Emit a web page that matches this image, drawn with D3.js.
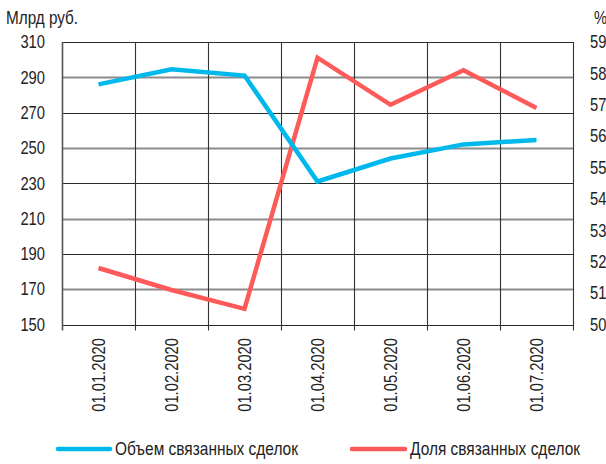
<!DOCTYPE html>
<html>
<head>
<meta charset="utf-8">
<script src="https://cdn.jsdelivr.net/npm/d3@7"></script>
<style>
  body { margin: 0; background: #fff; }
  svg text { font-family: "Liberation Sans", Arial, sans-serif; fill: #222; font-size: 18px; }
</style>
</head>
<body>
<div id="chart"></div>
<script>
// Dual-axis line chart: volume (left, bn rub) vs share (right, %)
const dates = ["01.01.2020", "01.02.2020", "01.03.2020", "01.04.2020", "01.05.2020", "01.06.2020", "01.07.2020"];
const volume = [286, 294.5, 291, 231, 244, 252, 254.5];
const share = [51.8, 51.1, 50.5, 58.5, 57.0, 58.1, 56.9];
const leftTicks = [150, 170, 190, 210, 230, 250, 270, 290, 310];
const rightTicks = [50, 51, 52, 53, 54, 55, 56, 57, 58, 59];
const seriesNames = ["Объем связанных сделок", "Доля связанных сделок"];
const colors = ["#00B9EC", "#FF5A5A"];

const width = 606, height = 464;
const plotL = 62, plotR = 573, plotT = 42, plotB = 324.5;

const svg = d3.select("#chart").append("svg")
  .attr("width", width)
  .attr("height", height);

const x = d3.scaleBand().domain(dates).range([plotL, plotR]).padding(0);
const yL = d3.scaleLinear().domain([150, 310]).range([plotB, plotT]);
const yR = d3.scaleLinear().domain([50, 59]).range([plotB, plotT]);
const cx = d => x(d) + x.bandwidth() / 2;

// condense text horizontally around its anchor point (original font is a narrow grotesque)
function narrow(sel, base, k = 0.82) {
  sel.each(function(d) {
    const t = d3.select(this);
    const tx = +t.attr("x") || 0, ty = +t.attr("y") || 0;
    const pre = base ? base(d) : "";
    t.attr("x", 0).attr("y", 0)
      .attr("transform", `${pre} translate(${tx},${ty}) scale(${k},1)`);
  });
}

// horizontal gridlines, alternating dark / grey
svg.append("g").selectAll("line")
  .data(leftTicks)
  .join("line")
  .attr("x1", plotL).attr("x2", plotR)
  .attr("y1", d => Math.round(yL(d)) + 0.5)
  .attr("y2", d => Math.round(yL(d)) + 0.5)
  .style("stroke", (d, i) => i % 2 === 0 ? "#2a2a2a" : "#8c8c8c")
  .style("stroke-width", (d, i) => i % 2 === 0 ? 1.2 : 1.8);

// vertical gridlines at category boundaries (+ ticks below the axis)
const bounds = dates.map(d => x(d)).concat([plotR]);
svg.append("g").selectAll("line")
  .data(bounds)
  .join("line")
  .attr("x1", d => Math.round(d) + 0.5).attr("x2", d => Math.round(d) + 0.5)
  .attr("y1", plotT).attr("y2", plotB + 6)
  .style("stroke", (d, i) => i === 0 ? "#555" : "#333")
  .style("stroke-width", (d, i) => i === 0 ? 1.6 : 1.1);

// left axis labels
svg.append("g")
  .attr("transform", `translate(${plotL},0)`)
  .call(d3.axisLeft(yL).tickValues(leftTicks).tickSize(0).tickPadding(17))
  .call(g => g.select(".domain").remove())
  .call(g => g.selectAll("text").attr("font-size", null).call(narrow));

// right axis labels
svg.append("g")
  .attr("transform", `translate(${plotR},0)`)
  .call(d3.axisRight(yR).tickValues(rightTicks).tickSize(0).tickPadding(17))
  .call(g => g.select(".domain").remove())
  .call(g => g.selectAll("text").attr("font-size", null).call(narrow));

// rotated x labels
svg.append("g").selectAll("text")
  .data(dates)
  .join("text")
  .attr("text-anchor", "end")
  .attr("dy", "0.35em")
  .text(d => d)
  .call(narrow, d => `translate(${cx(d)},338) rotate(-90)`);

// axis titles
svg.append("text")
  .attr("x", 6).attr("y", 24)
  .text("Млрд руб.")
  .call(narrow, null, 0.85);

svg.append("text")
  .attr("x", 594).attr("y", 24)
  .text("%")
  .call(narrow);

// lines
const lineL = d3.line().x((d, i) => cx(dates[i])).y(d => yL(d));
const lineR = d3.line().x((d, i) => cx(dates[i])).y(d => yR(d));

svg.append("path")
  .datum(share)
  .attr("d", lineR)
  .style("fill", "none")
  .style("stroke", colors[1])
  .style("stroke-width", 4.5);

svg.append("path")
  .datum(volume)
  .attr("d", lineL)
  .style("fill", "none")
  .style("stroke", colors[0])
  .style("stroke-width", 4.5);

// legend
const legendItems = [
  { name: seriesNames[0], color: colors[0], x0: 58, x1: 110 },
  { name: seriesNames[1], color: colors[1], x0: 352, x1: 405 }
];
const lg = svg.append("g").selectAll("g")
  .data(legendItems)
  .join("g");

lg.append("line")
  .attr("x1", d => d.x0).attr("x2", d => d.x1)
  .attr("y1", 449).attr("y2", 449)
  .style("stroke", d => d.color)
  .style("stroke-width", 4.5)
  .style("stroke-linecap", "round");

lg.append("text")
  .attr("x", d => d.x1 + 5)
  .attr("y", 455)
  .text(d => d.name)
  .call(narrow, null, 0.86);
</script>
</body>
</html>
